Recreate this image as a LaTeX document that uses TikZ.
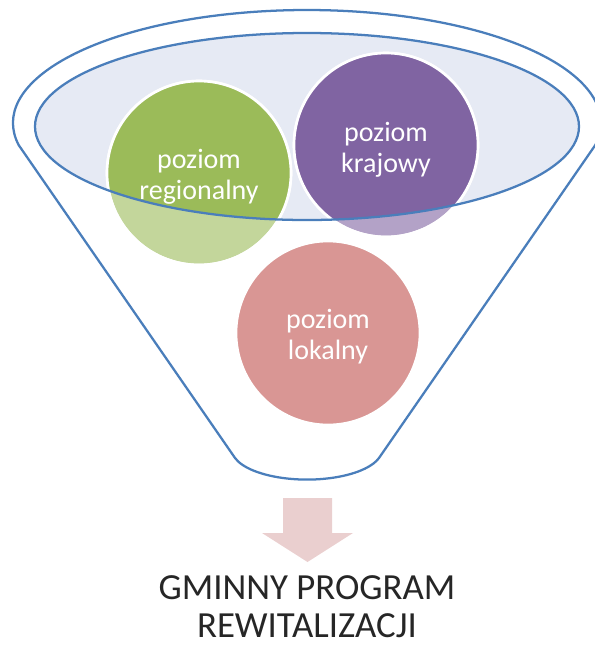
\documentclass[tikz,border=0pt]{standalone}
\usepackage{fontspec}
\setmainfont{Carlito}
\definecolor{funnelblue}{HTML}{4A7EBB}
\definecolor{rimfill}{HTML}{E6EAF4}
\definecolor{cgreen}{HTML}{9BBB59}
\definecolor{cpurple}{HTML}{8064A2}
\definecolor{cpink}{HTML}{D99694}
\definecolor{arrowpink}{HTML}{EACFCF}
\begin{document}
\begin{tikzpicture}[x=0.75pt,y=-0.75pt,
  outline/.style={draw=funnelblue, line width=1.7pt},
  lvlshape/.style={circle, minimum size=138pt, inner sep=0pt, draw=white, line width=2pt},
  lvltext/.style={text=white, align=center, font=\fontsize{21}{23.3}\selectfont},
  bigtext/.style={text=black!85, align=center, inner sep=0pt, font=\fontsize{27.6}{28.6}\selectfont}]
\useasboundingbox (0,0) rectangle (595,647);
% rim fill
\fill[rimfill] (307,126.5) ellipse [x radius=272, y radius=93.5];
% circles (light part outside the rim)
\node[lvlshape, fill=cgreen!60] (reg) at (199,173) {};
\node[lvlshape, fill=cpurple!60] (kraj) at (386,145) {};
\node[lvlshape, fill=cpink] (lok) at (328,333) {};
% full colour inside the rim
\begin{scope}
  \clip (307,126.5) ellipse [x radius=272, y radius=93.5];
  \fill[cgreen] (reg.center) circle [radius=92];
  \fill[cpurple] (kraj.center) circle [radius=92];
\end{scope}
\draw[white, line width=2pt] (reg.center) circle [radius=92];
\draw[white, line width=2pt] (kraj.center) circle [radius=92];
% rim outline
\draw[outline] (307,126.5) ellipse [x radius=272, y radius=93.5];
% funnel body
\draw[outline] (307,123) ++(168.8:294 and 113)
  arc [start angle=168.8, end angle=371.2, x radius=294, y radius=113]
  -- (379,458)
  arc [start angle=16.3, end angle=163.7, x radius=75, y radius=30]
  -- cycle;
% texts in circles
\node[lvltext] (regt) at (199,177) {poziom\\regionalny};
\node[lvltext] (krajt) at (386,150) {poziom\\krajowy};
\node[lvltext] (lokt) at (328,337) {poziom\\lokalny};
% arrow
\fill[arrowpink] (283,498) -- (332,498) -- (332,533) -- (353,533) -- (307.5,562)
  -- (262,533) -- (283,533) -- cycle;
% result
\node[bigtext] (gpr) at (307,607) {GMINNY PROGRAM\\REWITALIZACJI};
\end{tikzpicture}
\end{document}
